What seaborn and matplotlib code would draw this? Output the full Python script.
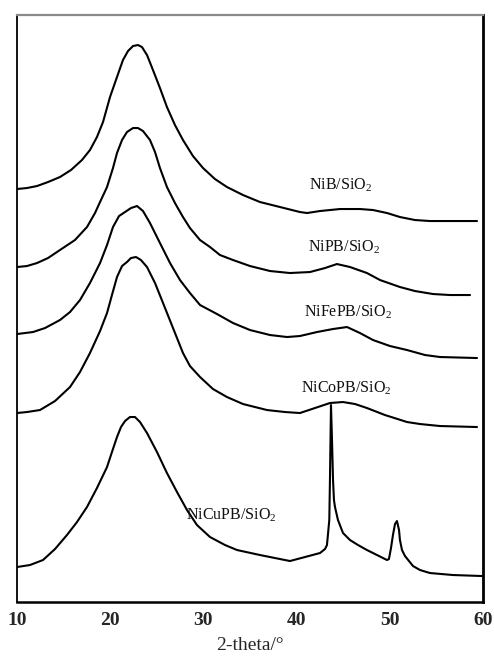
import numpy as np
import pandas as pd
import matplotlib
matplotlib.use("Agg")
import matplotlib.pyplot as plt
import seaborn as sns

# XRD patterns (2-theta in degrees, intensity in arbitrary stacked units)
tt_nib = [10.00, 11.07, 12.15, 13.33, 14.61, 15.79, 16.97, 17.83, 18.58, 19.23, 19.98, 20.73,
          21.37, 21.91, 22.45, 22.98, 23.41, 23.95, 24.59, 25.34, 26.09, 26.95, 27.81, 28.88,
          29.96, 31.24, 32.53, 34.25, 36.07, 38.22, 40.36, 41.12, 42.51, 44.66, 46.80, 48.20,
          49.70, 51.09, 52.70, 54.31, 56.46, 59.36]
i_nib = [413, 414, 416, 420, 425, 432, 442, 452, 465, 480, 505, 525,
         542, 551, 556, 557, 555, 547, 532, 514, 495, 477, 462, 446,
         434, 423, 415, 407, 400, 395, 390, 389, 391, 393, 393, 392,
         389, 385, 382, 381, 381, 381]

tt_nipb = [10.00, 11.07, 12.15, 13.33, 14.61, 16.22, 17.51, 18.37, 18.91, 19.66, 20.30, 20.73,
           21.27, 21.80, 22.45, 22.98, 23.52, 24.27, 24.81, 25.34, 26.09, 26.95, 27.81, 28.56,
           29.64, 30.71, 31.78, 33.18, 35.00, 37.15, 39.29, 41.44, 43.05, 44.33, 45.73, 47.55,
           48.95, 51.09, 52.70, 54.64, 56.46, 58.61]
i_nipb = [335, 336, 339, 344, 352, 362, 375, 389, 400, 415, 434, 449,
          462, 470, 474, 474, 471, 462, 450, 434, 415, 399, 385, 374,
          362, 355, 347, 342, 336, 331, 329, 330, 334, 338, 335, 329,
          322, 315, 311, 308, 307, 307]

tt_nifepb = [10.00, 11.72, 13.01, 14.61, 15.69, 16.76, 17.83, 18.91, 19.66, 20.30, 20.95, 21.59,
             22.23, 22.88, 23.52, 24.27, 25.34, 26.42, 27.49, 28.56, 29.64, 31.46, 33.18, 35.00,
             37.15, 38.97, 40.36, 42.19, 43.90, 45.41, 46.80, 48.20, 50.02, 51.85, 53.78, 55.39,
             59.36]
i_nifepb = [268, 270, 274, 282, 290, 302, 319, 339, 357, 375, 386, 390,
            394, 396, 391, 379, 359, 339, 322, 309, 297, 288, 279, 272,
            267, 265, 266, 270, 273, 275, 269, 262, 256, 252, 247, 245,
            244]

tt_nicopb = [10.00, 11.07, 12.47, 14.08, 15.69, 16.76, 17.83, 18.91, 19.66, 20.19, 20.73, 21.27,
             21.80, 22.23, 22.77, 23.30, 23.95, 24.81, 25.67, 26.74, 27.81, 28.56, 29.64, 31.03,
             32.53, 34.25, 36.82, 38.76, 40.36, 41.97, 43.58, 44.98, 46.27, 47.55, 49.48, 51.85,
             53.24, 55.39, 59.36]
i_nicopb = [189, 190, 192, 201, 215, 230, 249, 271, 289, 307, 325, 336,
            340, 344, 345, 342, 335, 319, 299, 274, 249, 236, 225, 213,
            205, 198, 192, 190, 189, 194, 199, 200, 198, 194, 187, 180,
            178, 176, 175]

tt_nicupb = [10.00, 11.39, 12.79, 14.08, 15.36, 16.44, 17.51, 18.58, 19.66, 20.19, 20.73, 21.16,
             21.59, 22.12, 22.66, 23.20, 23.95, 25.02, 26.09, 27.17, 28.24, 29.31, 30.71, 32.32,
             33.61, 36.07, 37.68, 39.29, 40.90, 42.51, 43.05, 43.26, 43.51, 43.58, 43.69, 43.80,
             43.91, 44.01, 44.12, 44.44, 44.98, 45.73, 46.59, 47.55, 48.63, 49.70, 49.91, 50.13,
             50.34, 50.56, 50.77, 50.99, 51.09, 51.31, 51.63, 52.49, 53.24, 54.31, 56.78, 59.89]
i_nicupb = [35, 37, 42, 53, 67, 80, 95, 114, 135, 150, 165, 175,
            181, 185, 185, 180, 169, 150, 129, 110, 92, 77, 65, 57,
            52, 47, 44, 41, 45, 49, 53, 57, 82, 122, 197, 162,
            122, 102, 95, 82, 69, 62, 57, 52, 47, 42, 43, 54,
            67, 78, 81, 72, 62, 52, 46, 36, 32, 29, 27, 26]

samples = ["NiB/SiO$_2$", "NiPB/SiO$_2$", "NiFePB/SiO$_2$", "NiCoPB/SiO$_2$", "NiCuPB/SiO$_2$"]
label_x = [44.76, 45.03, 45.46, 45.30, 33.0]
label_y = [417, 355, 290, 214, 87]

curves = [(tt_nib, i_nib), (tt_nipb, i_nipb), (tt_nifepb, i_nifepb),
          (tt_nicopb, i_nicopb), (tt_nicupb, i_nicupb)]

sns.set_theme(style="white")
plt.rcParams["font.family"] = ["Liberation Serif", "DejaVu Serif"]
plt.rcParams["mathtext.fontset"] = "custom"
plt.rcParams["mathtext.rm"] = "Liberation Serif"
plt.rcParams["mathtext.it"] = "Liberation Serif:italic"

fig = plt.figure(figsize=(4.94, 6.62), dpi=100)
ax = fig.add_axes([0.0344, 0.0906, 0.9433, 0.8867])

for (tt, inten), name in zip(curves, samples):
    df = pd.DataFrame({"two_theta": tt, "intensity": inten})
    sns.lineplot(data=df, x="two_theta", y="intensity", color="black", lw=1.5,
                 sort=False, estimator=None, ax=ax)

for name, lx, ly in zip(samples, label_x, label_y):
    ax.text(lx, ly, name, ha="center", va="center", fontsize=11.5, color="#111111")

ax.set_xlim(10, 60)
ax.set_ylim(0, 587)
ax.set_xticks(range(10, 61, 10))
ax.set_yticks([])
ax.tick_params(axis="x", direction="in", length=9, width=1.8, color="black",
               pad=7, labelsize=14)
for lbl in ax.get_xticklabels():
    lbl.set_fontweight("bold")
ax.set_xlabel("2-theta/°", fontsize=14, labelpad=6)
ax.set_ylabel("")

ax.spines["top"].set_color("#8a8a8a")
ax.spines["top"].set_linewidth(1.6)
ax.spines["left"].set_color("black")
ax.spines["left"].set_linewidth(1.3)
ax.spines["right"].set_color("black")
ax.spines["right"].set_linewidth(2.0)
ax.spines["bottom"].set_color("black")
ax.spines["bottom"].set_linewidth(1.8)

fig.savefig("out.png", dpi=100)
